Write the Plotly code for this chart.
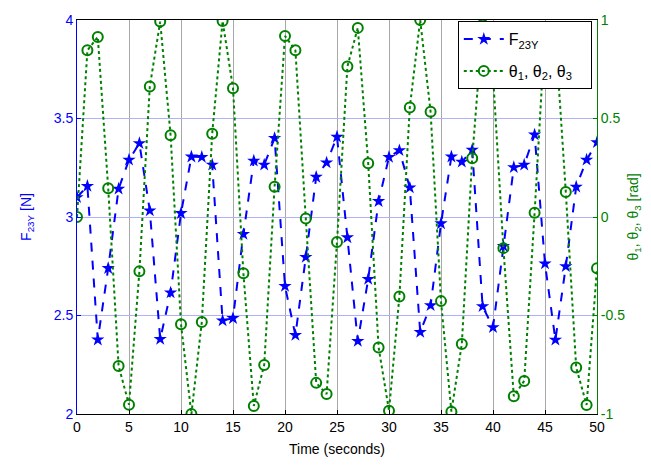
import plotly.graph_objects as go

time_s = list(range(0, 51))

f23y = [3.10, 3.157, 2.377, 2.74, 3.143, 3.29, 3.374, 3.032, 2.38, 2.616,
        3.019, 3.306, 3.304, 3.265, 2.474, 2.486, 2.913, 3.285, 3.265, 3.40,
        2.649, 2.40, 2.796, 3.203, 3.276, 3.407, 2.896, 2.37, 2.685, 3.08,
        3.304, 3.338, 3.149, 2.416, 2.551, 2.967, 3.306, 3.28, 3.341, 2.546,
        2.44, 2.852, 3.252, 3.265, 3.418, 2.763, 2.376, 2.749, 3.153, 3.29,
        3.379]

theta = [0.0, 0.846, 0.914, 0.146, -0.756, -0.953, -0.276, 0.662, 0.992, 0.415,
         -0.544, -1.0, -0.533, 0.423, 0.995, 0.654, -0.286, -0.959, -0.751, 0.154,
         0.919, 0.846, -0.008, -0.842, -0.899, -0.127, 0.764, 0.96, 0.273, -0.662,
         -0.983, -0.403, 0.556, 1.0, 0.534, -0.427, -0.988, -0.645, 0.298, 0.976,
         0.72, -0.158, -0.91, -0.832, 0.021, 0.95, 0.93, 0.127, -0.764, -0.954,
         -0.26]

x_ticks = [0, 5, 10, 15, 20, 25, 30, 35, 40, 45, 50]
left_ticks = [2, 2.5, 3, 3.5, 4]
right_ticks = [-1, -0.5, 0, 0.5, 1]
right_tick_text = ["-1", "-0.5", "0", "0.5", "1"]

BLUE = "#0000ff"
GREEN = "#008000"
FONT = "Liberation Sans, Arial, sans-serif"

fig = go.Figure()
fig.add_trace(go.Scatter(
    x=time_s, y=f23y, name="F<sub>23Y</sub>", yaxis="y",
    legendgroup="a",
    mode="lines+markers",
    line=dict(color=BLUE, width=2, dash="dash"),
    marker=dict(symbol="star", size=10, color=BLUE),
))
fig.add_trace(go.Scatter(
    x=time_s, y=theta, name="θ<sub>1</sub>, θ<sub>2</sub>, θ<sub>3</sub>&nbsp;&nbsp;&nbsp;", yaxis="y2",
    legendgroup="b",
    mode="lines+markers",
    line=dict(color=GREEN, width=2, dash="dot"),
    marker=dict(symbol="circle-open", size=10, color=GREEN, line=dict(width=2, color=GREEN)),
))

fig.update_layout(
    width=651, height=467,
    margin=dict(l=77, r=53, t=12, b=45),
    paper_bgcolor="white", plot_bgcolor="white",
    font=dict(family=FONT, size=14, color="black"),
    showlegend=True,
    legend=dict(
        x=0.99, y=0.997, xanchor="right", yanchor="top",
        bgcolor="white", bordercolor="black", borderwidth=1,
        font=dict(family=FONT, size=16, color="black"),
        tracegroupgap=8, itemwidth=40,
    ),
    xaxis=dict(
        range=[0, 50], tickvals=x_ticks, ticks="inside", ticklen=4,
        tickcolor="black", showline=True, linecolor="black", linewidth=1,
        mirror=True, showgrid=True, gridcolor="#a8a8a8", gridwidth=1,
        zeroline=False,
        tickfont=dict(family=FONT, size=14, color="black"),
        title=dict(text="Time (seconds)", font=dict(family=FONT, size=14, color="black"), standoff=10),
    ),
    yaxis=dict(
        range=[2, 4], tickvals=left_ticks, ticks="inside", ticklen=4,
        tickcolor=BLUE, showline=True, linecolor=BLUE, linewidth=1,
        showgrid=True, gridcolor="#b0b0ff", gridwidth=1, zeroline=False,
        tickfont=dict(family=FONT, size=14, color=BLUE),
        title=dict(text="F<sub>23Y</sub> [N]", font=dict(family=FONT, size=14, color=BLUE), standoff=18),
    ),
    yaxis2=dict(
        range=[-1, 1], tickvals=right_ticks, ticktext=right_tick_text,
        overlaying="y", side="right", anchor="x",
        ticks="inside", ticklen=4, tickcolor=GREEN,
        showline=True, linecolor=GREEN, linewidth=1,
        showgrid=False, zeroline=False,
        tickfont=dict(family=FONT, size=14, color=GREEN),
        title=dict(text="θ<sub>1</sub>, θ<sub>2</sub>, θ<sub>3</sub> [rad]",
                   font=dict(family=FONT, size=14, color=GREEN), standoff=4),
    ),
)

fig.write_html("out.html")
